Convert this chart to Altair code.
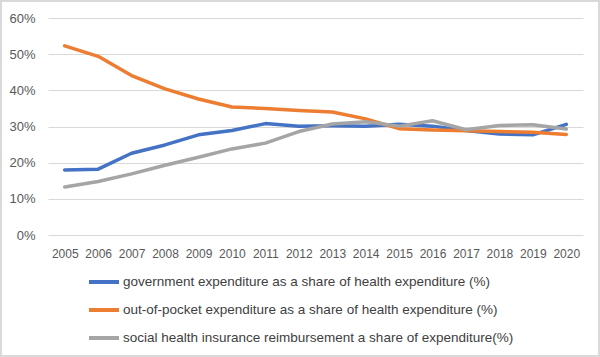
import altair as alt
import pandas as pd

years = [str(y) for y in range(2005, 2021)]
gov = [18.0, 18.2, 22.6, 24.9, 27.7, 28.9, 30.8, 30.1, 30.2, 30.1, 30.6, 30.1, 28.9, 27.9, 27.7, 30.6]
oop = [52.3, 49.4, 44.1, 40.4, 37.6, 35.4, 35.0, 34.4, 34.0, 32.1, 29.4, 29.0, 28.8, 28.6, 28.4, 27.8]
shi = [13.3, 14.8, 16.9, 19.3, 21.5, 23.8, 25.4, 28.6, 30.7, 31.3, 30.1, 31.6, 29.1, 30.3, 30.5, 29.3]

names = [
    "government expenditure as a share of health expenditure (%)",
    "out-of-pocket expenditure as a share of health expenditure (%)",
    "social health insurance reimbursement a share of expenditure(%)",
]
colors = ["#4472C4", "#ED7D31", "#A5A5A5"]

rows = []
for name, vals in zip(names, [gov, oop, shi]):
    for y, v in zip(years, vals):
        rows.append({"year": y, "value": v / 100.0, "series": name})
df = pd.DataFrame(rows)

FONT = "Liberation Sans"

lines = alt.Chart(df).mark_line(strokeWidth=3.5, strokeCap="round", strokeJoin="round").encode(
    x=alt.X("year:O", scale=alt.Scale(type="point", padding=0.5), sort=years,
            axis=alt.Axis(title=None, labelAngle=0, ticks=False, domain=False, grid=False,
                          labelFont=FONT, labelFontSize=12, labelColor="#595959", labelPadding=13)),
    y=alt.Y("value:Q", scale=alt.Scale(domain=[0, 0.6], nice=False),
            axis=alt.Axis(title=None, format=".0%", values=[0, 0.1, 0.2, 0.3, 0.4, 0.5, 0.6],
                          ticks=False, domain=False, gridColor="#D9D9D9", gridWidth=1,
                          labelFont=FONT, labelFontSize=13, labelColor="#595959", labelPadding=13)),
    color=alt.Color("series:N", sort=names, scale=alt.Scale(domain=names, range=colors),
                    legend=alt.Legend(title=None, orient="none", legendX=39, legendY=247,
                                      direction="vertical", symbolType="stroke", symbolSize=900,
                                      symbolStrokeWidth=4, labelFont=FONT, labelFontSize=13.5,
                                      labelColor="#404040", rowPadding=3, labelOffset=2,
                                      labelLimit=500)),
)

border = alt.Chart(pd.DataFrame({"a": [0]})).mark_rect(
    fill=None, stroke="#D9D9D9", strokeWidth=2, clip=False
).encode(
    x=alt.value(-47), x2=alt.value(551), y=alt.value(-17), y2=alt.value(338)
)

chart = alt.layer(lines, border).properties(
    width=535, height=217,
    padding={"left": 48, "top": 18, "right": 17, "bottom": 122},
    autosize=alt.AutoSizeParams(type="none"),
    background="white",
).configure_view(stroke=None)

chart.save("out.html", embed_options={"renderer": "svg", "actions": False})
